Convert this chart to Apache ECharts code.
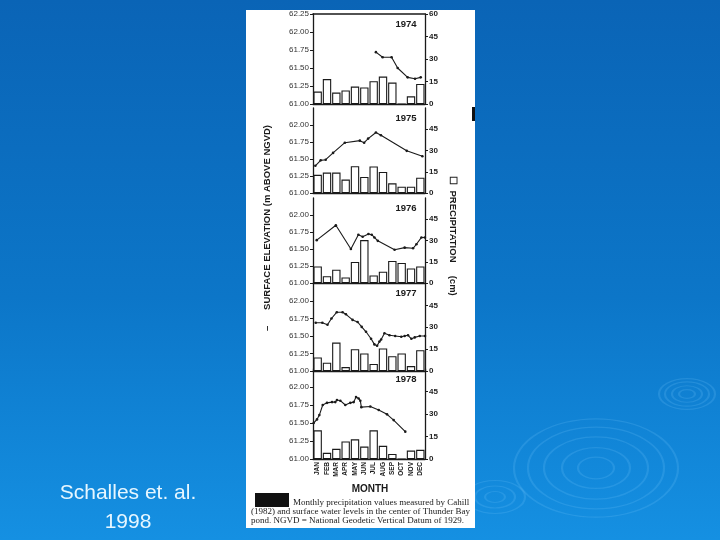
<!DOCTYPE html>
<html><head><meta charset="utf-8">
<script src="https://cdn.jsdelivr.net/npm/echarts@6/dist/echarts.min.js"></script>
<style>html,body{margin:0;padding:0;}#c{width:720px;height:540px;}</style>
</head><body><div id="c"></div>
<script>
const months = ['JAN','FEB','MAR','APR','MAY','JUN','JUL','AUG','SEP','OCT','NOV','DEC'];
const years = ['1974','1975','1976','1977','1978'];
const elevTicks = [61.00, 61.25, 61.50, 61.75, 62.00, 62.25];
const precipTicks = [0, 15, 30, 45, 60];

const precip1974 = [8.3,16.6,7.6,9.0,11.6,11.0,15.2,18.3,14.3,0,5.1,13.4];
const precip1975 = [12.8,14.4,14.4,9.5,18.9,11.3,18.7,14.9,6.8,4.5,4.5,10.8];
const precip1976 = [11.7,4.8,9.4,3.9,14.9,30.3,5.3,8.0,15.6,14.2,10.3,11.7];
const precip1977 = [9.3,5.7,19.5,2.7,15.0,12.0,4.8,15.5,10.2,12.0,3.4,14.3];
const precip1978 = [19.1,4.1,6.8,11.7,13.1,8.3,19.1,8.8,3.4,0,5.6,6.1];

const levelTime1974 = [6.74,7.46,8.42,9.07,10.14,10.93,11.54];
const level1974     = [61.72,61.65,61.65,61.50,61.37,61.35,61.37];
const levelTime1975 = [0.25,0.82,1.36,2.15,3.41,5.02,5.48,5.91,6.74,7.28,10.04,11.72];
const level1975     = [61.40,61.48,61.49,61.59,61.74,61.77,61.74,61.80,61.89,61.85,61.62,61.54];
const levelTime1976 = [0.40,2.45,4.06,4.86,5.32,5.94,6.29,6.58,6.94,8.74,9.82,10.72,11.08,11.62,11.98];
const level1976     = [61.63,61.85,61.50,61.71,61.68,61.72,61.71,61.67,61.62,61.49,61.52,61.51,61.57,61.67,61.67];
const levelTime1977 = [0.29,1.0,1.55,1.98,2.55,3.17,3.53,4.24,4.78,5.22,5.68,6.22,6.58,6.87,7.12,7.3,7.66,8.2,8.81,9.46,9.82,10.18,10.54,10.9,11.44,12.0];
const level1977     = [61.69,61.69,61.66,61.75,61.84,61.84,61.81,61.73,61.70,61.63,61.56,61.46,61.38,61.36,61.42,61.45,61.54,61.51,61.50,61.49,61.50,61.51,61.46,61.48,61.50,61.50];
const levelTime1978 = [0.07,0.43,0.68,1.04,1.5,2.04,2.39,2.57,2.93,3.46,4.0,4.36,4.61,4.89,5.07,5.18,6.14,7.04,7.93,8.64,9.89];
const level1978     = [61.50,61.55,61.61,61.75,61.78,61.79,61.79,61.82,61.81,61.75,61.78,61.79,61.86,61.84,61.81,61.72,61.73,61.68,61.62,61.54,61.38];

const precipAll = [precip1974, precip1975, precip1976, precip1977, precip1978];
const levelTimes = [levelTime1974, levelTime1975, levelTime1976, levelTime1977, levelTime1978];
const levels = [level1974, level1975, level1976, level1977, level1978];

const panels = [
  {top: 14, height: 90},
  {top: 108, height: 85},
  {top: 198, height: 85},
  {top: 283.5, height: 87.5},
  {top: 369, height: 90}
];
const PL = 313, PW = 112;
const ink = '#1a1a1a';

const chart = echarts.init(document.getElementById('c'), null, {renderer: 'canvas'});

const grid = [], xAxis = [], yAxis = [], series = [];
panels.forEach((p, i) => {
  grid.push({left: PL, top: p.top, width: PW, height: p.height, containLabel: false});
  const last = i === panels.length - 1;
  xAxis.push({
    type: 'category', gridIndex: i, data: months, boundaryGap: true,
    axisLine: {show: true, lineStyle: {color: ink, width: 1.3}},
    axisTick: {show: false},
    axisLabel: {show: last, rotate: 90, fontSize: 6.5, color: ink, margin: 3, fontFamily: 'Liberation Sans', fontWeight: 'bold'},
    splitLine: {show: false}, z: 5
  });
  xAxis.push({
    type: 'value', gridIndex: i, min: 0, max: 12, position: 'top',
    show: i === 0,
    axisLine: {show: i === 0, onZero: false, lineStyle: {color: ink, width: 1.5}},
    axisTick: {show: false}, axisLabel: {show: false}, splitLine: {show: false}
  });
  yAxis.push({
    type: 'value', gridIndex: i, min: elevTicks[0], max: elevTicks[elevTicks.length - 1], interval: 0.25,
    position: 'left',
    axisLine: {show: true, onZero: false, lineStyle: {color: ink, width: 1.3}},
    axisTick: {show: true, length: 3, lineStyle: {color: ink}},
    axisLabel: {fontSize: 8, color: '#333', margin: 4, fontFamily: 'Liberation Sans',
      showMaxLabel: i === 0, formatter: v => v.toFixed(2)},
    splitLine: {show: false}
  });
  yAxis.push({
    type: 'value', gridIndex: i, min: precipTicks[0], max: precipTicks[precipTicks.length - 1], interval: 15,
    position: 'right',
    axisLine: {show: true, onZero: false, lineStyle: {color: ink, width: 1.3}},
    axisTick: {show: true, length: 3, lineStyle: {color: ink}},
    axisLabel: {fontSize: 8, color: '#222', margin: 4, fontFamily: 'Liberation Sans', fontWeight: 'bold',
      showMaxLabel: i === 0},
    splitLine: {show: false}
  });
  series.push({
    type: 'bar', xAxisIndex: 2 * i, yAxisIndex: 2 * i + 1,
    data: precipAll[i], barCategoryGap: '10%',
    itemStyle: {color: '#ffffff', borderColor: ink, borderWidth: 1.1},
    silent: true, animation: false
  });
  series.push({
    type: 'line', xAxisIndex: 2 * i + 1, yAxisIndex: 2 * i,
    data: levelTimes[i].map((t, k) => [t, levels[i][k]]),
    symbol: 'circle', symbolSize: 2.6, showSymbol: true,
    itemStyle: {color: ink}, lineStyle: {color: ink, width: 1.1},
    z: 10, silent: true, animation: false
  });
});

const graphic = [];
const ripples = [
  {cx: 596, cy: 468, rs: [18, 34, 52, 68, 82], sy: 0.6},
  {cx: 687, cy: 394, rs: [8, 15, 22, 28], sy: 0.55},
  {cx: 495, cy: 497, rs: [10, 20, 30], sy: 0.55}
];
ripples.forEach(r => r.rs.forEach(rad => graphic.push({
  type: 'circle', shape: {cx: 0, cy: 0, r: rad}, x: r.cx, y: r.cy, scaleY: r.sy, z: -9,
  style: {fill: null, stroke: 'rgba(130,205,255,0.18)', lineWidth: 2.2}, silent: true
})));
graphic.push({type: 'rect', shape: {x: 246, y: 10, width: 229, height: 518}, style: {fill: '#ffffff'}, z: -5, silent: true});
graphic.push({type: 'rect', shape: {x: 472, y: 107, width: 3, height: 14}, style: {fill: '#111'}, z: -4, silent: true});
panels.forEach((p, i) => graphic.push({
  type: 'text', x: 406, y: p.top + 10, z: 20,
  style: {text: years[i], font: 'bold 9.5px "Liberation Sans"', fill: ink, textAlign: 'center', textVerticalAlign: 'middle'}
}));
graphic.push({type: 'text', x: 267, y: 228, rotation: Math.PI / 2, z: 20,
  style: {text: '\u2013      SURFACE ELEVATION (m ABOVE NGVD)', font: 'bold 9.5px "Liberation Sans"', fill: ink, textAlign: 'center', textVerticalAlign: 'middle'}});
graphic.push({type: 'text', x: 453, y: 236, rotation: -Math.PI / 2, z: 20,
  style: {text: '\u2610  PRECIPITATION     (cm)', font: 'bold 9.5px "Liberation Sans"', fill: ink, textAlign: 'center', textVerticalAlign: 'middle'}});
graphic.push({type: 'text', x: 370, y: 489, z: 20,
  style: {text: 'MONTH', font: 'bold 10px "Liberation Sans"', fill: ink, textAlign: 'center', textVerticalAlign: 'middle'}});
graphic.push({type: 'rect', shape: {x: 255, y: 493, width: 34, height: 14}, style: {fill: '#111'}, z: 20, silent: true});
const captionLines = [
  {x: 293, y: 503, t: 'Monthly precipitation values measured by Cahill'},
  {x: 251, y: 512, t: '(1982) and surface water levels in the center of Thunder Bay'},
  {x: 251, y: 521, t: 'pond. NGVD = National Geodetic Vertical Datum of 1929.'}
];
captionLines.forEach(l => graphic.push({type: 'text', x: l.x, y: l.y, z: 20,
  style: {text: l.t, font: '9px "Liberation Serif"', fill: ink, textAlign: 'left', textVerticalAlign: 'middle'}}));
graphic.push({type: 'text', x: 128, y: 493, z: 20,
  style: {text: 'Schalles et. al.', font: '21px "Liberation Sans"', fill: '#e6f6ff', textAlign: 'center', textVerticalAlign: 'middle'}});
graphic.push({type: 'text', x: 128, y: 522, z: 20,
  style: {text: '1998', font: '21px "Liberation Sans"', fill: '#e6f6ff', textAlign: 'center', textVerticalAlign: 'middle'}});

chart.setOption({
  animation: false,
  backgroundColor: {type: 'linear', x: 0, y: 0, x2: 0, y2: 1,
    colorStops: [{offset: 0, color: '#0a64b6'}, {offset: 0.55, color: '#0c76c8'}, {offset: 1, color: '#1590e2'}]},
  grid, xAxis, yAxis, series, graphic
});
</script>
</body></html>
